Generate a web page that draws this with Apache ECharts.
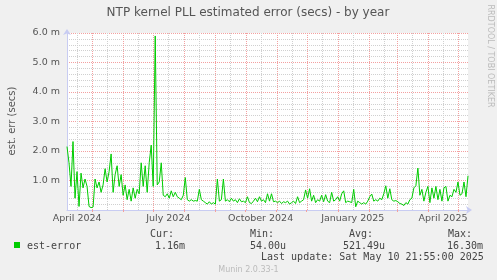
<!DOCTYPE html>
<html><head><meta charset="utf-8">
<script src="https://cdn.jsdelivr.net/npm/echarts@6/dist/echarts.min.js"></script>
<style>html,body{margin:0;padding:0;background:#f0f0f0;}#c{width:497px;height:280px;}</style>
</head><body><div id="c"></div>
<script>
// ---- data ----
const START = Date.UTC(2024, 3, 5, 22);
const END = Date.UTC(2025, 4, 10, 22);
const DAY = 86400000;
const STEP_DAYS = 2;
// est. error in milliseconds, one reading every STEP_DAYS days from START
const errValues = [
  2.15,1.6,0.8,2.32,0.4,1.3,0.12,1.25,0.75,1.05,
  0.8,0.12,0.08,0.1,1.05,0.75,0.95,0.6,0.85,1.4,
  0.95,1.3,1.9,0.6,1.2,1.5,0.8,1.2,0.5,0.85,
  0.35,0.7,0.3,0.75,0.4,0.7,0.55,1.6,0.8,1.5,
  0.6,1.6,2.2,0.8,5.9,0.85,0.95,1.6,0.5,0.45,
  0.55,0.4,0.65,0.45,0.6,0.45,0.4,0.35,0.5,1.1,
  0.35,0.3,0.35,0.3,0.32,0.3,0.7,0.35,0.3,0.25,
  0.2,0.28,0.2,0.25,0.2,1.05,0.3,0.35,1.05,0.3,
  0.35,0.28,0.4,0.3,0.35,0.25,0.38,0.28,0.3,0.25,
  0.45,0.25,0.22,0.3,0.4,0.28,0.45,0.3,0.35,0.25,
  0.55,0.3,0.55,0.28,0.3,0.25,0.3,0.22,0.28,0.25,
  0.3,0.2,0.25,0.3,0.22,0.45,0.25,0.3,0.35,0.68,
  0.4,0.72,0.3,0.5,0.25,0.35,0.3,0.5,0.28,0.52,
  0.3,0.25,0.6,0.3,0.35,0.45,0.3,0.55,0.65,0.25,
  0.3,0.28,0.25,0.7,0.11,0.3,0.25,0.2,0.25,0.2,
  0.3,0.45,0.54,0.3,0.35,0.3,0.4,0.35,0.55,0.82,
  0.4,0.72,0.35,0.3,0.32,0.28,0.22,0.2,0.15,0.25,
  0.2,0.35,0.4,0.75,0.82,1.42,0.5,0.7,0.3,0.6,
  0.8,0.25,0.75,0.4,0.8,0.35,0.7,0.3,0.75,0.8,
  0.3,0.5,0.45,0.7,0.6,0.95,0.5,0.55,0.95,0.45,
  1.16
];
const tickLabels = ['April 2024','July 2024','October 2024','January 2025','April 2025'];
const tickDates = [[2024,3,16],[2024,6,16],[2024,9,16],[2025,0,16],[2025,3,16]];
const monthStarts = [[2024,4,1],[2024,5,1],[2024,6,1],[2024,7,1],[2024,8,1],[2024,9,1],[2024,10,1],[2024,11,1],[2025,0,1],[2025,1,1],[2025,2,1],[2025,3,1],[2025,4,1]];
const midMonths = [[2024,3,16],[2024,4,16],[2024,5,16],[2024,6,16],[2024,7,16],[2024,8,16],[2024,9,16],[2024,10,16],[2024,11,16],[2025,0,16],[2025,1,16],[2025,2,16],[2025,3,16]];
const yMax = 6;
const legendHeads = ['Cur:','Min:','Avg:','Max:'];
const legendVals = ['1.16m','54.00u','521.49u','16.30m'];
const titleText = 'NTP kernel PLL estimated error (secs) - by year';
const yName = 'est. err (secs)';
const seriesName = 'est-error';
const lastUpdate = 'Last update: Sat May 10 21:55:00 2025';
const sideText = 'RRDTOOL / TOBI OETIKER';
const footer = 'Munin 2.0.33-1';

// ---- build ----
const ts = d => Date.UTC(d[0], d[1], d[2]);
const seriesData = errValues.map((v, i) => [START + i * STEP_DAYS * DAY, v]);
const tickTs = tickDates.map(ts);
const GREEN = '#00cc00';
const MAJOR = '#f3a0a0';
const MINOR = '#d0d0d0';
const MONO = '"DejaVu Sans Mono", monospace';
const SANS = '"DejaVu Sans", sans-serif';

const legendX = [150, 250, 349, 448];
const valX = [155, 250, 343, 447];
const graphics = [
  {type:'text', x:248, y:13, style:{text:titleText, font:'12px '+SANS, fill:'#555', align:'center', verticalAlign:'middle', textAlign:'center', textVerticalAlign:'middle'}},
  {type:'text', x:12, y:121, rotation:Math.PI/2, style:{text:yName, font:'10px '+SANS, fill:'#555', align:'center', verticalAlign:'middle', textAlign:'center', textVerticalAlign:'middle'}},
  {type:'text', x:490, y:56, rotation:-Math.PI/2, style:{text:sideText, font:'8px '+SANS, fill:'#bbb', align:'center', verticalAlign:'middle', textAlign:'center', textVerticalAlign:'middle'}},
  {type:'rect', shape:{x:14, y:242, width:6, height:6}, style:{fill:GREEN}},
  {type:'text', x:27, y:246, style:{text:seriesName, font:'10px '+MONO, fill:'#444', verticalAlign:'middle', textVerticalAlign:'middle'}},
  {type:'text', x:261, y:257.5, style:{text:lastUpdate, font:'10px '+MONO, fill:'#444', verticalAlign:'middle', textVerticalAlign:'middle'}},
  {type:'text', x:248.5, y:269.5, style:{text:footer, font:'8px '+SANS, fill:'#bbb', align:'center', verticalAlign:'middle', textAlign:'center', textVerticalAlign:'middle'}}
];
legendHeads.forEach((h, i) => {
  graphics.push({type:'text', x:legendX[i], y:234, style:{text:h, font:'10px '+MONO, fill:'#444', verticalAlign:'middle', textVerticalAlign:'middle'}});
  graphics.push({type:'text', x:valX[i], y:246, style:{text:legendVals[i], font:'10px '+MONO, fill:'#444', verticalAlign:'middle', textVerticalAlign:'middle'}});
});

// vertical grid lines: [time, 0, kind] kind 0 = minor, 1 = major
const gridData = midMonths.map(d => [ts(d), 0, 0]).concat(monthStarts.map(d => [ts(d), 0, 1]));

const AXIS = '#c8ccf2';
const chart = echarts.init(document.getElementById('c'), null, {renderer:'canvas'});
chart.setOption({
  animation:false,
  backgroundColor:'#f0f0f0',
  grid:{left:67, right:29, top:33, bottom:70, show:true, backgroundColor:'#ffffff', borderWidth:0, containLabel:false},
  xAxis:{
    type:'value', min:START, max:END,
    splitLine:{show:false},
    axisLine:{show:true, lineStyle:{color:AXIS, width:1}, symbol:['none','arrow'], symbolSize:[6,6], symbolOffset:[0,4]},
    axisTick:{show:true, customValues: monthStarts.map(ts), length:2, lineStyle:{color:MAJOR}},
    axisLabel:{customValues: tickTs, margin:4, color:'#555', fontFamily:'DejaVu Sans', fontSize:9.5,
      formatter: v => { const k = tickTs.indexOf(v); return k >= 0 ? tickLabels[k] : ''; }}
  },
  yAxis:{
    type:'value', min:0, max:yMax, interval:1,
    axisLine:{show:true, lineStyle:{color:AXIS, width:1}, symbol:['none','arrow'], symbolSize:[6,6], symbolOffset:[0,4]},
    axisTick:{show:false},
    minorTick:{show:false, splitNumber:5},
    splitLine:{show:true, lineStyle:{color:MAJOR, type:[1,1], width:1}},
    minorSplitLine:{show:true, lineStyle:{color:MINOR, type:[1,1], width:1}},
    axisLabel:{margin:7, color:'#555', fontFamily:'DejaVu Sans', fontSize:9.5,
      formatter: v => v === 0 ? '' : v.toFixed(1) + ' m'}
  },
  series:[
    {type:'custom', name:'grid', data:gridData, z:1, silent:true, encode:{x:0, y:1},
      renderItem:(params, api) => {
        const t = api.value(0);
        const p0 = api.coord([t, 0]);
        const p1 = api.coord([t, yMax]);
        const x = Math.round(p0[0]) + 0.5;
        return {type:'line', shape:{x1:x, y1:Math.round(p0[1]), x2:x, y2:Math.round(p1[1])},
          style:{stroke: api.value(2) === 1 ? MAJOR : MINOR, lineWidth:1, lineDash:[1,1]}};
      }},
    {type:'line', name:seriesName, data:seriesData, z:3, showSymbol:false, symbol:'none',
      lineStyle:{color:GREEN, width:1}, itemStyle:{color:GREEN}}
  ],
  graphic: graphics
});
</script></body></html>
